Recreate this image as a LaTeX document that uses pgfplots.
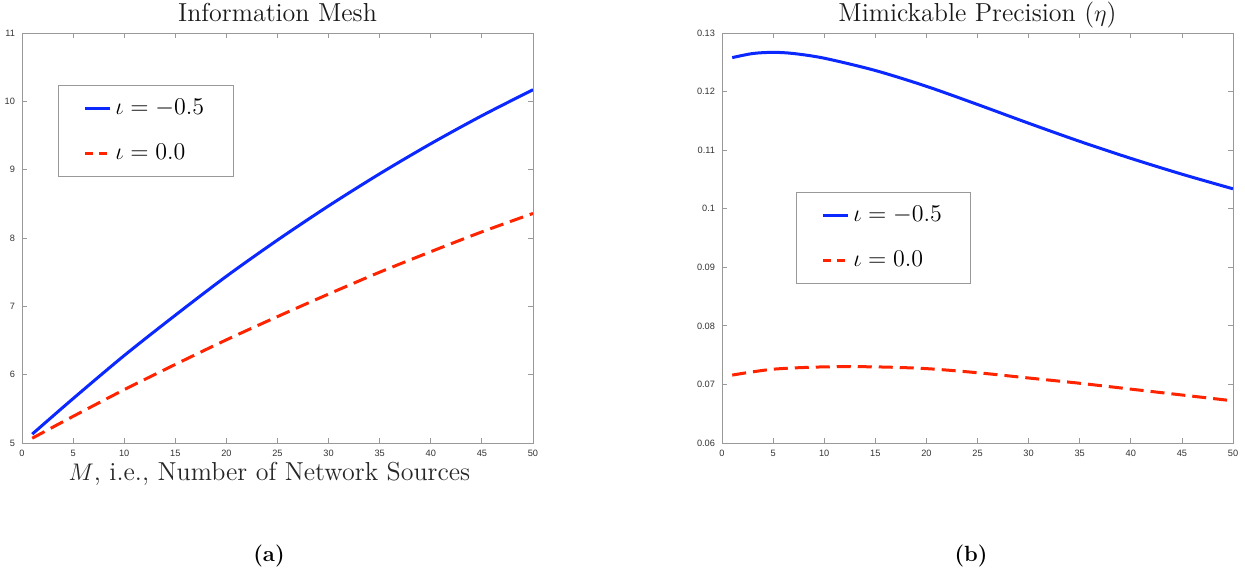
\documentclass[border=0pt]{standalone}
\usepackage{pgfplots}
\pgfplotsset{compat=1.18}
\usepackage{fontspec}
\newfontfamily\ticksf{Liberation Sans}
\definecolor{mblue}{RGB}{10,40,255}
\definecolor{mred}{RGB}{255,35,0}
\pgfplotsset{
 myaxis/.style={
  scale only axis, width=255.5pt, height=205pt,
  xmin=0, xmax=50, xtick={0,5,...,50},
  axis line style={black!40, line width=0.4pt},
  every tick/.style={black!40, line width=0.4pt},
  major tick length=2.5pt,
  tick align=inside,
  ticklabel style={font=\fontsize{4.6}{5}\ticksf, text=black!80},
  /pgf/number format/assume math mode=true,
  title style={font=\fontsize{13}{15}\selectfont, text=black!90, anchor=base, at={(0.5,1)}, yshift=0pt},
  legend style={draw=black!40, line width=0.4pt, font=\fontsize{12.4}{15}\selectfont, legend cell align=left, inner xsep=12.5pt, inner ysep=5pt, row sep=9pt, anchor=north west},
  legend image code/.code={\draw[#1,line width=1.5pt] (0pt,0pt) -- (12.5pt,0pt);},
  blueline/.style={mblue, line width=1.5pt, smooth},
  redline/.style={mred, line width=1.5pt, smooth, dash pattern=on 7pt off 3.5pt, legend image post style={dash pattern=on 4pt off 3pt}},
 }
}
\begin{document}
\begin{tikzpicture}
\useasboundingbox (-11pt,-66pt) rectangle (611.5pt,221.5pt);
\begin{axis}[myaxis, at={(0pt,0pt)}, anchor=origin,
  ymin=5, ymax=11, ytick={5,6,...,11},
  title={Information Mesh},
  xlabel={$M$, i.e., Number of Network Sources},
  xlabel style={font=\fontsize{13}{15}\selectfont, text=black!85, at={(axis description cs:0.5,0)}, anchor=base, yshift=-18.5pt, xshift=-4pt},
  legend style={at={(axis description cs:0.0705,0.873)}},
]
\addplot[blueline] coordinates {(1,5.13) (5,5.65) (10,6.28) (15,6.87) (20,7.44) (25,7.97) (30,8.47) (35,8.94) (40,9.38) (45,9.79) (50,10.17)};
\addlegendentry{$\iota=-0.5$}
\addplot[redline] coordinates {(1,5.07) (5,5.39) (10,5.78) (15,6.15) (20,6.51) (25,6.85) (30,7.18) (35,7.50) (40,7.80) (45,8.09) (50,8.36)};
\addlegendentry{$\iota=0.0$}
\end{axis}
\begin{axis}[myaxis, at={(350pt,0pt)}, anchor=origin,
  ymin=0.06, ymax=0.13, ytick={0.06,0.07,...,0.13},
  yticklabel style={/pgf/number format/fixed, /pgf/number format/precision=2},
  title={Mimickable Precision ($\eta$)},
  legend style={at={(axis description cs:0.1445,0.612)}},
]
\addplot[blueline] coordinates {(1,0.1258) (3,0.1265) (5,0.1267) (7,0.1265) (10,0.1257) (15,0.1236) (20,0.1209) (25,0.1178) (30,0.1146) (35,0.1115) (40,0.1086) (45,0.1059) (50,0.1034)};
\addlegendentry{$\iota=-0.5$}
\addplot[redline] coordinates {(1,0.0716) (5,0.0726) (10,0.0730) (15,0.0730) (20,0.0727) (25,0.0720) (30,0.0711) (35,0.0702) (40,0.0692) (45,0.0682) (50,0.0672)};
\addlegendentry{$\iota=0.0$}
\end{axis}
\node[font=\fontsize{11}{13}\selectfont\bfseries, inner sep=0pt] at (123.5pt,-56.5pt) {(a)};
\node[font=\fontsize{11}{13}\selectfont\bfseries, inner sep=0pt] at (474.5pt,-56.5pt) {(b)};
\end{tikzpicture}
\end{document}
